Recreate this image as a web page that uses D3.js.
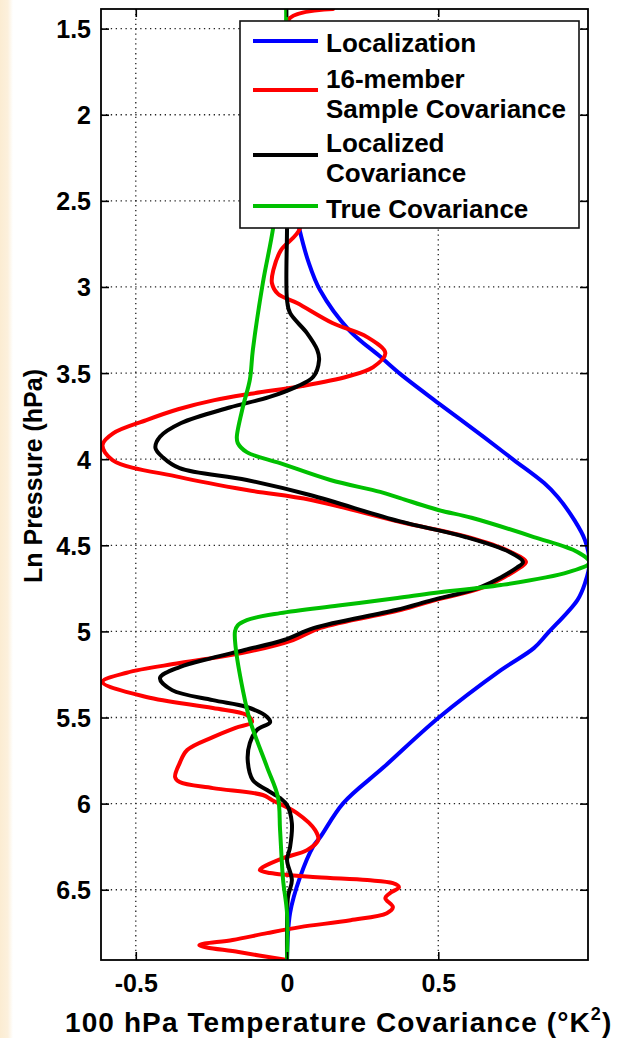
<!DOCTYPE html>
<html>
<head>
<meta charset="utf-8">
<script src="https://cdn.jsdelivr.net/npm/d3@7/dist/d3.min.js"></script>
<style>
  html, body { margin: 0; padding: 0; background: #fff; }
  svg { display: block; }
  text { font-family: "Liberation Sans", Arial, Helvetica, sans-serif; font-weight: bold; fill: #000; }
</style>
</head>
<body>
<svg id="chart" width="620" height="1038"></svg>
<script>
// Vertical coordinate: ln(pressure in hPa); horizontal: covariance with 100 hPa temperature
const yTicks = [1.5, 2, 2.5, 3, 3.5, 4, 4.5, 5, 5.5, 6, 6.5];
const xTicks = [-0.5, 0, 0.5];
const xTickLabels = ["-0.5", "0", "0.5"];
const yLimits = [1.386, 6.908];
const xLimits = [-0.615, 0.995];

const seriesNames = ["Localization", "16-member\nSample Covariance", "Localized\nCovariance", "True Covariance"];
const seriesColors = ["#0000ff", "#ff0000", "#000000", "#00c000"];

// Localization function
const localizationLnP = [2.20, 2.40, 2.658, 2.85, 3.018, 3.25, 3.407, 3.506, 3.674, 3.871, 4.005, 4.139, 4.22, 4.354, 4.47, 4.605, 4.72, 4.818, 5.01, 5.097, 5.225, 5.503, 5.788, 5.997, 6.194, 6.25, 6.427, 6.636, 6.908];
const localizationVal = [0.0, 0.01, 0.04, 0.07, 0.109, 0.205, 0.31, 0.375, 0.50, 0.65, 0.75, 0.85, 0.895, 0.95, 0.985, 1.0, 0.985, 0.96, 0.862, 0.816, 0.707, 0.50, 0.32, 0.186, 0.11, 0.086, 0.043, 0.01, 0.0];

// 16-member sample covariance
const sampleLnP = [1.386, 1.438, 1.6, 2.0, 2.4, 2.658, 2.786, 2.9, 2.977, 3.04, 3.093, 3.209, 3.291, 3.384, 3.465, 3.52, 3.575, 3.62, 3.657, 3.71, 3.773, 3.85, 3.918, 4.005, 4.104, 4.179, 4.237, 4.365, 4.452, 4.539, 4.597, 4.63, 4.743, 4.818, 4.876, 4.98, 5.05, 5.126, 5.184, 5.24, 5.294, 5.381, 5.445, 5.486, 5.527, 5.56, 5.614, 5.689, 5.765, 5.846, 5.875, 5.91, 5.95, 5.979, 6.055, 6.154, 6.212, 6.27, 6.316, 6.369, 6.386, 6.403, 6.427, 6.444, 6.462, 6.485, 6.52, 6.549, 6.601, 6.636, 6.677, 6.717, 6.752, 6.792, 6.822, 6.862, 6.908];
const sampleVal = [0.152, 0.01, -0.01, 0.0, 0.02, 0.043, -0.02, -0.045, -0.05, -0.03, 0.033, 0.15, 0.265, 0.325, 0.285, 0.2, 0.05, -0.12, -0.24, -0.36, -0.465, -0.575, -0.61, -0.577, -0.355, -0.133, 0.08, 0.375, 0.597, 0.74, 0.79, 0.77, 0.65, 0.49, 0.375, 0.11, 0.02, -0.15, -0.355, -0.53, -0.61, -0.465, -0.245, -0.133, -0.116, -0.17, -0.245, -0.33, -0.355, -0.37, -0.355, -0.245, -0.08, -0.05, 0.033, 0.093, 0.103, 0.066, -0.013, -0.08, -0.09, -0.056, 0.1, 0.265, 0.35, 0.37, 0.34, 0.325, 0.35, 0.33, 0.21, 0.043, -0.066, -0.18, -0.29, -0.16, 0.0];

// Localized covariance
const localizedLnP = [2.5, 2.658, 3.076, 3.151, 3.268, 3.366, 3.424, 3.523, 3.58, 3.64, 3.70, 3.79, 3.87, 3.935, 3.99, 4.052, 4.121, 4.208, 4.36, 4.452, 4.539, 4.597, 4.63, 4.743, 4.818, 4.876, 4.98, 5.05, 5.108, 5.155, 5.207, 5.271, 5.341, 5.399, 5.439, 5.497, 5.527, 5.573, 5.649, 5.747, 5.863, 5.921, 5.968, 6.008, 6.113, 6.253, 6.328, 6.444, 6.543, 6.735, 6.908];
const localizedVal = [0.0, 0.0, 0.0, 0.01, 0.066, 0.1, 0.106, 0.086, 0.03, -0.06, -0.19, -0.35, -0.42, -0.435, -0.41, -0.355, -0.133, 0.076, 0.37, 0.59, 0.735, 0.78, 0.76, 0.64, 0.48, 0.36, 0.09, -0.01, -0.14, -0.25, -0.355, -0.42, -0.38, -0.245, -0.133, -0.066, -0.056, -0.1, -0.123, -0.13, -0.113, -0.066, -0.023, 0.0, 0.016, 0.01, 0.0, 0.016, 0.003, 0.0, 0.0];

// True covariance
const trueLnP = [1.386, 1.45, 2.0, 2.4, 2.658, 2.977, 3.366, 3.54, 3.697, 3.871, 3.906, 3.959, 4.023, 4.121, 4.19, 4.226, 4.295, 4.34, 4.452, 4.539, 4.6, 4.656, 4.731, 4.777, 4.806, 4.85, 4.894, 4.934, 4.965, 5.0, 5.09, 5.341, 5.515, 5.788, 5.962, 6.154, 6.444, 6.636, 6.908];
const trueVal = [-0.003, -0.003, -0.015, -0.03, -0.046, -0.08, -0.113, -0.123, -0.146, -0.166, -0.163, -0.133, -0.023, 0.143, 0.308, 0.374, 0.5, 0.61, 0.816, 0.96, 1.0, 0.93, 0.707, 0.485, 0.365, 0.17, -0.023, -0.133, -0.163, -0.172, -0.17, -0.146, -0.123, -0.066, -0.03, -0.023, -0.013, 0.0, 0.0];

const seriesLnP = [localizationLnP, sampleLnP, localizedLnP, trueLnP];
const seriesVal = [localizationVal, sampleVal, localizedVal, trueVal];

const svg = d3.select("#chart");
const W = 620, H = 1038;
const plot = { left: 101, right: 588, top: 9, bottom: 960 };

// warm strip at the far left edge
const defs = svg.append("defs");
const grad = defs.append("linearGradient").attr("id", "edge").attr("x1", "0").attr("x2", "1").attr("y1", "0").attr("y2", "0");
grad.append("stop").attr("offset", "0").attr("stop-color", "#fbecd2");
grad.append("stop").attr("offset", "0.6").attr("stop-color", "#fcf0dc");
grad.append("stop").attr("offset", "1").attr("stop-color", "#ffffff");
svg.append("rect").attr("x", 0).attr("y", 0).attr("width", 13).attr("height", H).attr("fill", "url(#edge)");

defs.append("clipPath").attr("id", "plotClip").append("rect")
  .attr("x", plot.left).attr("y", plot.top)
  .attr("width", plot.right - plot.left).attr("height", plot.bottom - plot.top);

const x = d3.scaleLinear().domain(xLimits).range([plot.left, plot.right]);
const y = d3.scaleLinear().domain(yLimits).range([plot.top, plot.bottom]);

svg.append("rect").attr("x", plot.left).attr("y", plot.top)
  .attr("width", plot.right - plot.left).attr("height", plot.bottom - plot.top).attr("fill", "#fff");

// dotted grid
const grid = svg.append("g").attr("stroke", "#222").attr("stroke-width", 1.3).attr("stroke-dasharray", "1.3,3.6");
grid.selectAll("line.gy").data(yTicks).join("line")
  .attr("x1", plot.left).attr("x2", plot.right)
  .attr("y1", d => y(d)).attr("y2", d => y(d));
grid.selectAll("line.gx").data(xTicks).join("line")
  .attr("y1", plot.top).attr("y2", plot.bottom)
  .attr("x1", d => x(d)).attr("x2", d => x(d));

// curves
const line = d3.line()
  .x(d => x(d[1]))
  .y(d => y(d[0]))
  .curve(d3.curveCatmullRom.alpha(0.5));

const curves = svg.append("g").attr("clip-path", "url(#plotClip)");
seriesNames.forEach((name, i) => {
  const pts = seriesLnP[i].map((p, j) => [p, seriesVal[i][j]]);
  curves.append("path")
    .attr("d", line(pts))
    .attr("fill", "none")
    .attr("stroke", seriesColors[i])
    .attr("stroke-width", 4)
    .attr("stroke-linejoin", "round")
    .attr("stroke-linecap", "round");
});

// axes with inward ticks on all four sides
const tickLen = 8;
const yAxisL = d3.axisLeft(y).tickValues(yTicks).tickSize(-tickLen).tickPadding(10).tickFormat(d3.format(""));
const yAxisR = d3.axisRight(y).tickValues(yTicks).tickSize(-tickLen).tickFormat("");
const xAxisB = d3.axisBottom(x).tickValues(xTicks).tickSize(-tickLen).tickPadding(14).tickFormat((d, i) => xTickLabels[i]);
const xAxisT = d3.axisTop(x).tickValues(xTicks).tickSize(-tickLen).tickFormat("");

function styleAxis(g) {
  g.select(".domain").remove();
  g.selectAll(".tick line").attr("stroke", "#000").attr("stroke-width", 1.6);
  g.selectAll(".tick text").style("font-size", "25px").style("font-weight", "bold")
    .style("font-family", "'Liberation Sans', Arial, sans-serif").attr("fill", "#000");
}
svg.append("g").attr("transform", `translate(${plot.left},0)`).call(yAxisL).call(styleAxis)
  .selectAll(".tick text").attr("dy", "0.36em");
svg.append("g").attr("transform", `translate(${plot.right},0)`).call(yAxisR).call(styleAxis);
svg.append("g").attr("transform", `translate(0,${plot.bottom})`).call(xAxisB).call(styleAxis);
svg.append("g").attr("transform", `translate(0,${plot.top})`).call(xAxisT).call(styleAxis);

// frame
svg.append("rect").attr("x", plot.left).attr("y", plot.top)
  .attr("width", plot.right - plot.left).attr("height", plot.bottom - plot.top)
  .attr("fill", "none").attr("stroke", "#000").attr("stroke-width", 1.8);

// axis titles
svg.append("text")
  .attr("transform", "translate(42,476) rotate(-90)")
  .attr("text-anchor", "middle")
  .style("font-size", "25px")
  .text("Ln Pressure (hPa)");

const xt = svg.append("text").attr("x", 65).attr("y", 1032)
  .style("font-size", "28px").style("letter-spacing", "1.1px");
xt.append("tspan").text("100 hPa Temperature Covariance (°K");
xt.append("tspan").attr("dy", -12).style("font-size", "18px").text("2");
xt.append("tspan").attr("dy", 12).text(")");

// legend
const lg = svg.append("g");
lg.append("rect").attr("x", 240).attr("y", 21).attr("width", 339).attr("height", 207)
  .attr("fill", "#fff").attr("stroke", "#111").attr("stroke-width", 1.6);
const legendLineY = [41, 90, 155, 206];
const legendTextY = [[52], [88, 118], [152, 182], [218]];
seriesNames.forEach((name, i) => {
  lg.append("line").attr("x1", 253).attr("x2", 318)
    .attr("y1", legendLineY[i]).attr("y2", legendLineY[i])
    .attr("stroke", seriesColors[i]).attr("stroke-width", 4);
  name.split("\n").forEach((part, k) => {
    lg.append("text").attr("x", 326).attr("y", legendTextY[i][k])
      .style("font-size", "26px").text(part);
  });
});
</script>
</body>
</html>
